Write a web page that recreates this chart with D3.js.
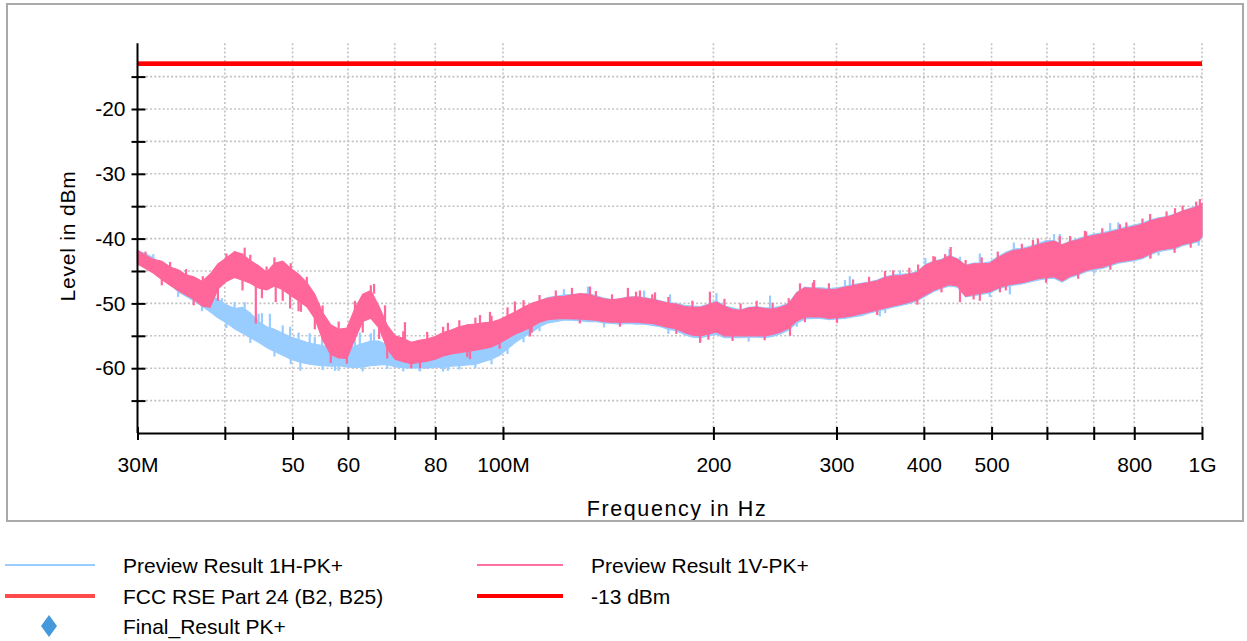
<!DOCTYPE html>
<html>
<head>
<meta charset="utf-8">
<script src="https://cdn.jsdelivr.net/npm/d3@7"></script>
<style>
  html, body { margin: 0; padding: 0; background: #fff; }
  svg { display: block; font-family: "Liberation Sans", Arial, sans-serif; }
</style>
</head>
<body>
<svg id="chart" width="1247" height="641"></svg>
<script>
// Sweep frequencies in MHz
const freqMHz = [30,30.8,31.6,32.5,33.4,34.3,35.2,36.1,37.1,38.1,39.1,40.2,41.3,42.4,43.5,44.7,45.9,47.1,48.4,49.7,
  51,52.4,53.8,55.2,56.7,58.2,59.8,61.4,63,64.7,66.5,68.3,70.1,72,73.9,75.9,77.9,80,82.1,84.3,
  86.6,88.9,91.3,93.8,96.3,98.9,101.5,104.2,107,109.9,112.8,115.9,119,122.2,125.5,128.8,132.3,135.8,139.5,143.2,
  147,151,155,159.2,163.5,167.9,172.4,177,181.7,186.6,191.6,196.7,202,207.4,213,218.7,224.6,230.6,236.8,243.1,
  249.6,256.3,263.2,270.3,277.5,285,292.6,300.5,308.5,316.8,325.3,334,343,352.2,361.6,371.3,381.3,391.5,402,412.8,
  423.9,435.3,447,459,471.3,484,497,510.3,524,538,552.5,567.3,582.5,598.2,614.2,630.7,647.6,665,682.8,701.2,
  720,739.3,759.1,779.5,800.4,821.9,843.9,866.6,889.8,913.7,938.2,963.4,989.2,1000];

// Preview Result 1V-PK+ : upper / lower envelope of the peak trace (dBm)
const vTop = [-41.8,-42.6,-43.2,-43.5,-44.4,-44.8,-45.6,-45.9,-46.6,-45.5,
  -43.9,-43.0,-42.0,-42.4,-43.4,-44.2,-45.2,-43.8,-43.5,-44.6,
  -45.5,-46.8,-48.6,-51.4,-53.3,-54.0,-53.8,-50.8,-48.6,-48.0,
  -50.5,-53.4,-55.0,-55.4,-56.0,-55.7,-55.5,-55.1,-54.5,-54.1,
  -53.6,-53.3,-53.2,-53.0,-52.9,-52.5,-51.9,-51.3,-50.6,-50.0,
  -49.6,-49.2,-49.0,-48.9,-48.7,-48.5,-48.6,-49.0,-49.3,-49.5,
  -49.3,-49.1,-49.0,-49.2,-49.4,-49.7,-50.0,-50.1,-50.5,-50.6,
  -50.6,-50.2,-49.8,-50.5,-50.9,-51.1,-50.7,-50.6,-50.8,-50.9,
  -50.6,-50.1,-48.4,-47.6,-47.7,-47.8,-47.9,-47.8,-47.5,-47.3,
  -47.0,-46.8,-46.5,-46.0,-45.8,-45.7,-45.5,-45.2,-44.1,-43.6,
  -43.3,-42.7,-43.2,-44.2,-43.9,-43.9,-43.8,-43.0,-42.3,-41.8,
  -41.7,-41.4,-41.0,-40.6,-40.4,-41.0,-40.5,-40.2,-39.8,-39.5,
  -39.3,-39.0,-38.7,-38.4,-38.1,-37.8,-37.3,-36.9,-36.7,-36.3,
  -35.8,-35.4,-35.0,-34.6];
const vBottom = [-43.9,-44.6,-45.3,-46.3,-47.2,-48.0,-48.7,-49.3,-50.4,-50.6,
  -47.8,-46.6,-46.0,-46.4,-46.9,-47.6,-47.9,-47.3,-47.9,-48.8,
  -49.6,-50.5,-52.3,-55.6,-57.9,-58.4,-58.5,-55.5,-52.8,-52.3,
  -53.8,-57.0,-58.6,-59.0,-59.3,-59.1,-58.9,-58.6,-58.1,-57.8,
  -57.6,-57.4,-57.2,-57.0,-56.7,-56.1,-55.4,-54.7,-54.2,-53.6,
  -52.9,-52.5,-52.4,-52.3,-52.4,-52.4,-52.5,-52.6,-52.8,-52.9,
  -52.9,-52.9,-52.9,-53.0,-53.1,-53.4,-53.7,-53.9,-54.5,-54.9,
  -55.0,-54.7,-54.4,-55.0,-55.0,-55.0,-55.0,-55.0,-55.0,-54.8,
  -54.4,-53.8,-52.7,-52.1,-52.1,-52.1,-52.3,-52.2,-52.1,-51.9,
  -51.6,-51.3,-51.0,-50.7,-50.4,-50.1,-49.8,-49.4,-48.7,-48.0,
  -47.5,-47.1,-47.3,-48.9,-48.6,-48.4,-48.2,-47.6,-47.2,-47.0,
  -46.8,-46.5,-46.2,-46.0,-45.9,-46.5,-45.8,-45.4,-44.9,-44.6,
  -44.4,-44.0,-43.6,-43.4,-43.2,-42.9,-42.3,-41.8,-41.6,-41.4,
  -40.9,-40.6,-40.3,-39.6];

// Preview Result 1H-PK+ : upper / lower envelope of the peak trace (dBm)
const hTop = [-41.9,-42.3,-43.0,-44.0,-44.6,-45.3,-46.1,-46.4,-47.4,-48.6,
  -49.4,-50.2,-50.8,-50.6,-51.5,-52.8,-53.6,-54.0,-54.6,-55.2,
  -55.6,-56.0,-56.3,-56.5,-56.9,-57.2,-57.0,-56.6,-56.2,-55.8,
  -55.8,-56.5,-57.0,-56.8,-56.9,-56.6,-56.8,-56.4,-56.2,-56.5,
  -56.7,-56.6,-56.8,-56.4,-56.0,-55.3,-54.0,-52.8,-51.6,-50.5,
  -49.6,-49.1,-48.9,-48.7,-48.6,-48.6,-48.5,-48.8,-49.2,-49.4,
  -49.3,-49.0,-49.0,-49.1,-49.3,-49.6,-49.9,-50.0,-50.3,-50.4,
  -50.5,-50.1,-49.6,-50.4,-50.7,-51.0,-50.6,-50.5,-50.7,-50.7,
  -50.4,-50.0,-48.3,-47.5,-47.6,-47.6,-47.7,-47.6,-47.4,-47.1,
  -46.9,-46.7,-46.4,-45.9,-45.6,-45.5,-45.4,-45.1,-44.0,-43.5,
  -43.2,-42.6,-43.1,-44.1,-43.8,-43.8,-43.6,-42.8,-42.1,-41.6,
  -41.5,-41.2,-40.8,-40.3,-40.3,-40.9,-40.4,-40.0,-39.6,-39.3,
  -39.1,-38.8,-38.5,-38.2,-37.9,-37.6,-37.1,-36.8,-36.6,-36.2,
  -35.7,-35.3,-34.9,-34.6];
const hBottom = [-43.6,-44.4,-45.2,-46.2,-47.0,-48.2,-48.9,-49.6,-50.4,-51.3,
  -52.2,-53.0,-53.9,-54.6,-55.3,-56.0,-56.8,-57.4,-58.0,-58.6,
  -59.0,-59.3,-59.5,-59.6,-59.7,-59.6,-59.8,-59.9,-59.8,-59.6,
  -59.5,-59.4,-59.8,-59.9,-60.0,-59.9,-60.0,-59.8,-59.9,-59.7,
  -59.6,-59.5,-59.4,-59.0,-58.6,-58.0,-57.0,-56.0,-55.2,-54.5,
  -53.6,-53.0,-52.8,-52.6,-52.6,-52.7,-52.8,-52.8,-53.0,-53.1,
  -53.2,-53.1,-53.2,-53.2,-53.4,-53.6,-54.0,-54.2,-54.8,-55.2,
  -55.3,-55.0,-54.8,-55.3,-55.3,-55.3,-55.2,-55.2,-55.3,-55.1,
  -54.7,-54.1,-53.0,-52.4,-52.3,-52.3,-52.5,-52.4,-52.3,-52.1,
  -51.9,-51.5,-51.2,-50.9,-50.6,-50.3,-50.0,-49.6,-48.9,-48.2,
  -47.7,-47.3,-47.5,-49.0,-48.8,-48.6,-48.4,-47.8,-47.4,-47.2,
  -47.0,-46.7,-46.4,-46.2,-46.1,-46.7,-46.0,-45.6,-45.1,-44.8,
  -44.6,-44.2,-43.8,-43.6,-43.4,-43.1,-42.5,-42.0,-41.8,-41.6,
  -41.1,-40.8,-40.5,-39.8];

// Isolated peaks standing out of each trace: [MHz, low dBm, high dBm]
const vSpikes = [[37.2,-47.5,-45.8],[42.7,-43.5,-41.4],[44.3,-53.1,-47.0],[45.2,-49.2,-46.5],[47.3,-49.8,-46.8],
  [49.6,-50.8,-47.5],[51.4,-51.3,-48.5],[65.4,-48.5,-47.0],[67.8,-54.0,-50.3],[72.4,-56.0,-52.9],
  [76.1,-60.0,-57.5],[83.4,-55.5,-53.0],[89.7,-58.6,-56.5],[92.7,-54.0,-51.8],[95.8,-54.0,-51.3],
  [104,-52.0,-49.7],[109.3,-55.1,-52.0],[133.2,-49.5,-47.4],[150.9,-49.5,-47.6],[157,-49.5,-48.0],
  [165,-50.0,-48.3],[191.4,-56.1,-53.0],[197.7,-50.5,-48.2],[257.4,-55.0,-52.0],[266,-48.5,-46.9],
  [278.7,-48.2,-46.4],[352,-46.5,-45.0],[392.5,-45.5,-44.0],[415,-44.0,-42.8],[429,-43.5,-42.4],
  [437,-43.0,-41.3],[450.6,-49.8,-46.0],[481,-49.6,-47.0],[514,-48.3,-46.0],[573,-41.8,-40.2],
  [626,-41.0,-39.6],[680,-40.2,-38.8],[763,-39.0,-37.8],[843,-37.6,-36.2],[915,-36.5,-35.3],
  [981,-35.2,-34.3],[993,-35.0,-33.9],
  [30.8,-43.0,-42.0],[32.5,-47.2,-45.8],[33.4,-45.0,-43.6],[35.2,-46.0,-44.7],[36.1,-50.3,-48.8],
  [39.1,-49.6,-47.3],[40.2,-43.5,-42.3],[42.4,-48.0,-46.0],[43.5,-43.8,-42.5],[45.9,-45.5,-44.3],
  [47.1,-44.2,-42.9],[48.4,-49.6,-47.5],[49.7,-45.0,-43.8],[51,-51.2,-49.2],[52.4,-47.2,-45.9],
  [53.8,-54.0,-52.0],[55.2,-51.8,-50.3],[56.7,-59.2,-57.5],[58.2,-54.4,-52.8],[59.8,-59.3,-58.0],
  [61.4,-51.3,-49.6],[63,-54.5,-52.4],[64.7,-48.4,-47.2],[66.5,-55.5,-53.4],[68.3,-58.5,-56.6],
  [72,-55.8,-54.3],[73.9,-60.0,-58.9],[77.9,-55.9,-54.4],[82.1,-54.9,-53.6],[86.6,-54.0,-52.6],
  [88.9,-58.3,-57.0],[91.3,-53.6,-52.2],[96.3,-53.3,-51.9],[98.9,-57.0,-55.7],[101.5,-52.3,-50.6],
  [107,-51.0,-49.5],[109.9,-54.5,-53.2],[112.8,-50.0,-48.7],[119,-49.4,-48.0],[125.5,-49.1,-47.6],
  [128.8,-53.1,-52.0],[135.8,-49.4,-48.1],[143.2,-49.9,-48.6],[147,-53.6,-52.5],[155,-49.4,-48.2],
  [163.5,-49.8,-48.6],[172.4,-50.4,-49.0],[177,-54.7,-53.5],[186.6,-51.0,-49.6],[196.7,-55.6,-54.3],
  [207.4,-50.9,-49.3],[213,-55.8,-54.6],[218.7,-51.5,-50.0],[230.6,-51.0,-49.6],[236.8,-55.7,-54.6],
  [243.1,-51.3,-49.9],[256.3,-50.5,-49.2],[270.3,-52.9,-51.7],[277.5,-48.1,-46.8],[292.6,-48.3,-46.9],
  [300.5,-53.0,-51.8],[316.8,-47.7,-46.3],[334,-47.2,-45.9],[343,-51.8,-50.6],[361.6,-46.2,-44.9],
  [381.3,-45.9,-44.5],[391.5,-50.2,-49.0],[412.8,-44.0,-42.7],[423.9,-48.3,-47.1],[459,-44.6,-43.3],
  [471.3,-49.4,-48.2],[484,-44.3,-42.9],[510.3,-43.4,-42.0],[524,-48.0,-46.8],[552.5,-42.1,-40.8],
  [582.5,-41.4,-40.0],[598.2,-46.8,-45.6],[647.6,-40.9,-39.6],[665,-46.2,-45.0],[682.8,-40.2,-38.9],
  [720,-39.7,-38.4],[739.3,-44.8,-43.6],[779.5,-38.8,-37.5],[821.9,-38.2,-36.9],[843.9,-43.1,-41.9],
  [889.8,-37.1,-35.8],[913.7,-42.2,-41.0],[938.2,-36.2,-34.9],[963.4,-41.4,-40.2]];
const hSpikes = [[36.5,-47.5,-46.4],[39.6,-50.0,-49.2],[42.7,-51.5,-49.8],[45.2,-53.5,-51.5],[46.4,-54.0,-51.6],
  [49.6,-55.5,-53.6],[51.3,-60.4,-58.5],[52.9,-56.5,-54.6],[55.1,-56.8,-54.4],[57.5,-60.4,-58.5],
  [58.5,-57.3,-55.0],[62.4,-56.5,-54.5],[65.4,-56.0,-54.0],[67.8,-57.0,-55.3],[76.1,-60.5,-58.5],
  [83.4,-60.4,-58.6],[173.4,-50.0,-48.6],[241,-51.0,-48.8],[313.4,-47.5,-45.8],[346,-52.0,-50.0],
  [369.7,-46.0,-44.9],[450.6,-44.5,-42.8],[481,-44.0,-42.3],[531,-48.6,-46.5],[626,-41.0,-39.3],
  [739,-39.5,-37.6],[843,-43.0,-41.0],
  [31.6,-43.4,-42.4],[34.3,-49.0,-47.8],[37.1,-51.2,-50.0],[40.2,-53.8,-52.6],[41.3,-51.2,-49.8],
  [43.5,-56.1,-54.9],[44.7,-53.2,-51.6],[47.1,-58.2,-57.0],[48.4,-55.0,-53.4],[49.7,-59.4,-58.2],
  [51,-56.0,-54.5],[53.8,-56.7,-55.2],[55.2,-60.3,-59.2],[58.2,-60.4,-59.2],[61.4,-57.0,-55.4],
  [63,-60.5,-59.4],[64.7,-56.2,-54.6],[68.3,-60.1,-59.0],[72,-60.5,-59.5],[75.9,-60.4,-59.5],
  [82.1,-60.5,-59.5],[86.6,-60.2,-59.2],[91.3,-60.0,-59.0],[96.3,-59.4,-58.2],[101.5,-57.8,-56.6],
  [107,-56.0,-54.8],[112.8,-54.3,-53.2],[122.2,-49.0,-47.8],[132.3,-48.8,-47.4],[139.5,-53.7,-52.6],
  [159.2,-49.4,-48.0],[172.4,-54.7,-53.6],[191.6,-55.9,-55.0],[202,-50.0,-48.4],[224.6,-55.9,-54.8],
  [263.2,-53.6,-52.5],[308.5,-47.8,-46.4],[352.2,-51.5,-50.4],[402,-44.4,-43.0],[435.3,-43.0,-41.6],
  [497,-49.0,-48.0],[538,-42.0,-40.6],[614.2,-40.7,-39.3],[701.2,-45.4,-44.4],[759.1,-38.9,-37.5],
  [866.6,-42.6,-41.6],[989.2,-41.1,-40.0]];

// Limit lines (dBm) across the whole span
const limitFreq = [30, 1000];
const fccLimit = [-13, -13];
const dbmLimit = [-13, -13];

// Axis ticks
const xTicks = [30,40,50,60,70,80,100,200,300,400,500,600,700,800,1000];
const xTickLabels = {30:"30M",50:"50",60:"60",80:"80",100:"100M",200:"200",300:"300",400:"400",500:"500",800:"800",1000:"1G"};
const yTicks = [-65,-60,-55,-50,-45,-40,-35,-30,-25,-20,-15];
const yTickLabels = {"-60":"-60","-50":"-50","-40":"-40","-30":"-30","-20":"-20"};

const legendItems = [
  {label:"Preview Result 1H-PK+", kind:"line", color:"#99ccff", width:2, col:0, row:0},
  {label:"Preview Result 1V-PK+", kind:"line", color:"#ff6f9f", width:2, col:1, row:0},
  {label:"FCC RSE Part 24 (B2, B25)", kind:"line", color:"#ff4a4a", width:4, col:0, row:1},
  {label:"-13 dBm", kind:"line", color:"#ff0000", width:4, col:1, row:1},
  {label:"Final_Result PK+", kind:"diamond", color:"#4499dd", col:0, row:2}
];

const svg = d3.select("#chart");
const x = d3.scaleLog().domain([30, 1000]).range([137.5, 1202]);
const y = d3.scaleLinear().domain([-70, -10]).range([433, 44.2]);

// outer frame
svg.append("defs").append("clipPath").attr("id", "frameClip")
  .append("rect").attr("x", 8).attr("y", 5).attr("width", 1234).attr("height", 515);
svg.append("rect").attr("x", 7).attr("y", 4).attr("width", 1236).attr("height", 517)
  .attr("fill", "#fff").attr("stroke", "#a9a9a9").attr("stroke-width", 2);

const plot = svg.append("g").attr("clip-path", "url(#frameClip)");

// grid
const gridColor = "#c2c2c2";
plot.append("g").selectAll("line").data(yTicks).join("line")
  .attr("x1", x(30)).attr("x2", x(1000))
  .attr("y1", d => y(d)).attr("y2", d => y(d))
  .attr("stroke", gridColor).attr("stroke-width", 1.6).attr("stroke-dasharray", "2,2.2");
plot.append("g").selectAll("line").data(xTicks.filter(d => d > 30)).join("line")
  .attr("x1", d => x(d)).attr("x2", d => x(d))
  .attr("y1", y(-10) - 1).attr("y2", y(-70))
  .attr("stroke", gridColor).attr("stroke-width", 1.6).attr("stroke-dasharray", "2,2.2");

// traces: envelope band plus the individual peaks
const band = (top, bottom) => d3.area()
  .x((d, i) => x(freqMHz[i]))
  .y0((d, i) => y(bottom[i]))
  .y1((d, i) => y(top[i]))
  .curve(d3.curveLinear);

function drawTrace(top, bottom, spikes, color) {
  plot.append("path").datum(freqMHz)
    .attr("d", band(top, bottom))
    .attr("fill", color).attr("stroke", color).attr("stroke-width", 1.2);
  plot.append("g").selectAll("line").data(spikes).join("line")
    .attr("x1", d => x(d[0])).attr("x2", d => x(d[0]))
    .attr("y1", d => y(d[1])).attr("y2", d => y(d[2]))
    .attr("stroke", color).attr("stroke-width", 2.2);
}
drawTrace(hTop, hBottom, hSpikes, "#99ccff");
drawTrace(vTop, vBottom, vSpikes, "#ff6699");

// limit lines
const limLine = vals => d3.line().x((d, i) => x(limitFreq[i])).y((d, i) => y(vals[i]));
plot.append("path").datum(limitFreq).attr("d", limLine(fccLimit))
  .attr("fill", "none").attr("stroke", "#ff4a4a").attr("stroke-width", 4.5);
plot.append("path").datum(limitFreq).attr("d", limLine(dbmLimit))
  .attr("fill", "none").attr("stroke", "#ff0000").attr("stroke-width", 4.5);

// axes
const xAxis = d3.axisBottom(x).tickValues(xTicks)
  .tickFormat(d => xTickLabels[d] || "").tickSizeInner(7).tickSizeOuter(0).tickPadding(17);
const gx = plot.append("g").attr("transform", `translate(0,${y(-70)})`).call(xAxis);
gx.select(".domain").attr("stroke", "#000").attr("stroke-width", 2);
gx.selectAll(".tick line").attr("y1", -6).attr("y2", 7).attr("stroke", "#000").attr("stroke-width", 2);
gx.selectAll(".tick text").attr("font-size", 21).attr("fill", "#000")
  .attr("font-family", "Liberation Sans, Arial, sans-serif");

const yAxis = d3.axisLeft(y).tickValues(yTicks)
  .tickFormat(d => yTickLabels[String(d)] || "").tickSizeInner(6).tickSizeOuter(0).tickPadding(6);
const gy = plot.append("g").attr("transform", `translate(${x(30)},0)`).call(yAxis);
gy.select(".domain").attr("stroke", "#000").attr("stroke-width", 2)
  .attr("d", `M0,${y(-10) - 1}V${y(-70)}`);
gy.selectAll(".tick line").attr("x1", -6).attr("x2", 8).attr("stroke", "#000").attr("stroke-width", 2);
gy.selectAll(".tick text").attr("font-size", 21).attr("fill", "#000")
  .attr("font-family", "Liberation Sans, Arial, sans-serif");

// axis titles
plot.append("text").attr("transform", "translate(75,236) rotate(-90)")
  .attr("text-anchor", "middle").attr("font-size", 21).attr("letter-spacing", 0.8)
  .text("Level in dBm");
plot.append("text").attr("x", 677).attr("y", 516)
  .attr("text-anchor", "middle").attr("font-size", 21.5).attr("letter-spacing", 1.6)
  .text("Frequency in Hz");

// legend
const colX = [[5, 95, 123], [477, 563, 591]];
const rowY = [565, 596, 626];
const lg = svg.append("g");
legendItems.forEach(it => {
  const [x0, x1, tx] = colX[it.col];
  const ly = rowY[it.row];
  if (it.kind === "line") {
    lg.append("line").attr("x1", x0).attr("x2", x1).attr("y1", ly).attr("y2", ly)
      .attr("stroke", it.color).attr("stroke-width", it.width);
  } else {
    const cx = (x0 + x1) / 2 - 1;
    lg.append("path").attr("d", `M${cx},${ly - 11}L${cx + 8},${ly}L${cx},${ly + 11}L${cx - 8},${ly}Z`)
      .attr("fill", it.color);
  }
  lg.append("text").attr("x", tx).attr("y", ly + 8).attr("font-size", 21).attr("fill", "#000")
    .text(it.label);
});
</script>
</body>
</html>
